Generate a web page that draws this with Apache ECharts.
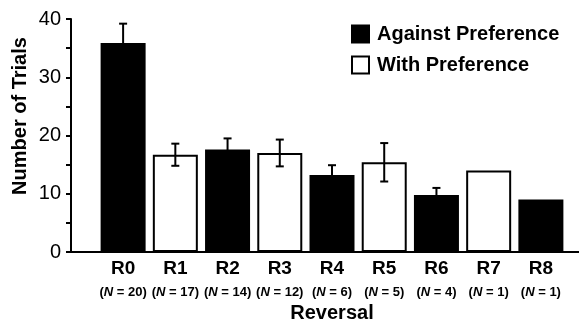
<!DOCTYPE html>
<html>
<head>
<meta charset="utf-8">
<script src="https://cdn.jsdelivr.net/npm/echarts@6/dist/echarts.min.js"></script>
<style>html,body{margin:0;padding:0;background:#fff;}#c{width:579px;height:320px;}</style>
</head>
<body>
<div id="c"></div>
<script>
const categories = ['R0','R1','R2','R3','R4','R5','R6','R7','R8'];
const sampleSizes = [20,17,14,12,6,5,4,1,1];
const conditions = ['against','with','against','with','against','with','against','with','against'];
const meanTrials = [35.9,16.7,17.6,17.0,13.2,15.4,9.8,14.0,9.0];
const errorValues = [3.3,1.9,1.9,2.3,1.7,3.3,1.2,null,null];
const yTicks = [0,10,20,30,40];

const FONT = "'Liberation Sans', Arial, sans-serif";
const againstData = meanTrials.map((v,i)=> conditions[i]==='against' ? v : null);
const withData = meanTrials.map((v,i)=> conditions[i]==='with' ? v : null);
const errData = [];
meanTrials.forEach((v,i)=>{ if(errorValues[i]!=null) errData.push([i, v, errorValues[i]]); });

const chart = echarts.init(document.getElementById('c'), null, {renderer:'canvas'});
chart.setOption({
  animation:false,
  backgroundColor:'#fff',
  textStyle:{fontFamily:FONT},
  legend:{
    orient:'vertical', left:346, top:19, itemWidth:17, itemHeight:17, itemGap:11, icon:'rect',
    data:['Against Preference','With Preference'],
    textStyle:{fontFamily:FONT, fontWeight:'bold', fontSize:20, color:'#000', padding:[0,0,0,3]}
  },
  graphic:[{
    type:'text', x:20, y:116, rotation:Math.PI/2,
    style:{text:'Number of Trials', font:"bold 20px 'Liberation Sans', Arial", fill:'#000', align:'center', verticalAlign:'middle'}
  }],
  grid:[
    {left:71, right:0, top:19, bottom:68, outerBoundsMode:'none', containLabel:false},
    {left:97, right:12, top:19, bottom:68, outerBoundsMode:'none', containLabel:false}
  ],
  xAxis:[
    {gridIndex:0, type:'value', min:0, max:1, axisLine:{show:true, lineStyle:{color:'#000', width:2}}, axisTick:{show:false}, axisLabel:{show:false}, splitLine:{show:false}},
    {gridIndex:1, type:'category', data:categories,
      axisLine:{show:false}, axisTick:{show:false},
      axisLabel:{interval:0, margin:4,
        formatter:(v,i)=>'{r|'+v+'}\n{n|(}{i|N}{n| = '+sampleSizes[i]+')}',
        rich:{
          r:{fontFamily:FONT, fontWeight:'bold', fontSize:19, lineHeight:25, color:'#000'},
          n:{fontFamily:FONT, fontWeight:'bold', fontSize:13, lineHeight:22, color:'#000'},
          i:{fontFamily:FONT, fontWeight:'bold', fontStyle:'italic', fontSize:13, lineHeight:22, color:'#000'}
        }
      },
      name:'Reversal', nameLocation:'middle', nameGap:50,
      nameTextStyle:{fontFamily:FONT, fontWeight:'bold', fontSize:20, color:'#000'}
    }
  ],
  yAxis:[
    {gridIndex:0, type:'value', min:yTicks[0], max:yTicks[yTicks.length-1], interval:10,
      axisLine:{show:true, lineStyle:{color:'#000', width:2}},
      axisTick:{show:true, length:5, lineStyle:{color:'#000', width:2}},
      minorTick:{show:true, splitNumber:2, length:5, lineStyle:{color:'#000', width:2}},
      axisLabel:{margin:10, fontFamily:FONT, fontSize:20, color:'#000'},
      splitLine:{show:false}},
    {gridIndex:1, type:'value', min:yTicks[0], max:yTicks[yTicks.length-1], show:false}
  ],
  series:[
    {name:'Against Preference', type:'bar', xAxisIndex:1, yAxisIndex:1, data:againstData, barWidth:45, barGap:'-100%',
      itemStyle:{color:'#000', borderColor:'#000', borderWidth:2}},
    {name:'With Preference', type:'bar', xAxisIndex:1, yAxisIndex:1, data:withData, barWidth:45, barGap:'-100%',
      itemStyle:{color:'#fff', borderColor:'#000', borderWidth:2}},
    {name:'err', type:'custom', xAxisIndex:1, yAxisIndex:1, data:errData, z:10,
      renderItem:(params, api)=>{
        const x = api.value(0), m = api.value(1), e = api.value(2);
        const top = api.coord([x, m+e]), bot = api.coord([x, m-e]);
        const hw = 4;
        const st = {stroke:'#000', lineWidth:2};
        return {type:'group', children:[
          {type:'line', shape:{x1:top[0], y1:top[1], x2:bot[0], y2:bot[1]}, style:st},
          {type:'line', shape:{x1:top[0]-hw, y1:top[1], x2:top[0]+hw, y2:top[1]}, style:st},
          {type:'line', shape:{x1:bot[0]-hw, y1:bot[1], x2:bot[0]+hw, y2:bot[1]}, style:st}
        ]};
      }}
  ]
});
</script>
</body>
</html>
